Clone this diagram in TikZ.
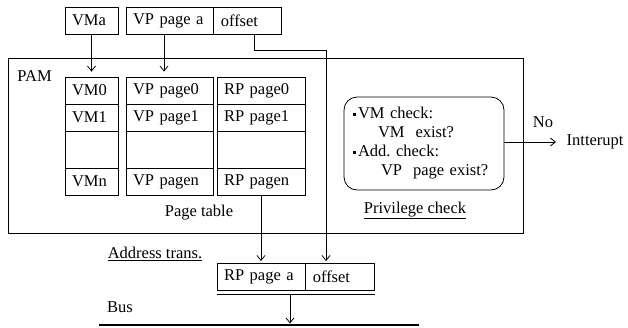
\documentclass[tikz,border=0pt]{standalone}
\usepackage{fontspec}
\setmainfont{Liberation Serif}
\usetikzlibrary{arrows.meta}
\tikzstyle{cell}=[draw, inner xsep=7pt, inner ysep=0pt,
    minimum height=27pt, align=left]
\tikzstyle{vmc}=[cell, text width=39pt]
\tikzstyle{vpc}=[cell, text width=73pt]
\tikzstyle{rpc}=[cell, text width=74pt]
\tikzstyle{ofc}=[cell, text width=54pt]
\tikzstyle{ann}=[inner sep=0pt]
\def\gaprow{37pt}
\newcommand{\sqb}{\raisebox{3pt}{\rule{3pt}{3pt}}\hspace{2pt}}
\begin{document}
\begin{tikzpicture}[x=1pt, y=-1pt, line width=0.8pt,
    font=\fontsize{16.5}{19}\selectfont,
    >={Straight Barb[length=5pt,width=8pt]}]
    \useasboundingbox (0,0) rectangle (628,327);
    % outer PAM block
    \node (pam) at (265.5,145.5) [draw, minimum width=515pt,
        minimum height=175pt] {};
    \path (pam.north west)+(27,18) node (pamlbl) [ann] {PAM};
    % address in
    \path (91.5,20.5) node (vma) [vmc] {VMa};
    \path (169.5,20.5) node (vpa) [vpc] {VP page a};
    \path (vpa.east) node (offa) [ofc, anchor=west] {offset};
    % page table
    \path (91.5,90.5) node (vm0) [vmc] {VM0};
    \path (91.5,117.5) node (vm1) [vmc] {VM1};
    \path (91.5,149.5) node (vmd) [vmc, minimum height=\gaprow] {};
    \path (91.5,181.5) node (vmn) [vmc] {VMn};
    \path (169.5,90.5) node (vp0) [vpc] {VP page0};
    \path (169.5,117.5) node (vp1) [vpc] {VP page1};
    \path (169.5,149.5) node (vpd) [vpc, minimum height=\gaprow] {};
    \path (169.5,181.5) node (vpn) [vpc] {VP pagen};
    \path (261,90.5) node (rp0) [rpc] {RP page0};
    \path (261,117.5) node (rp1) [rpc] {RP page1};
    \path (261,149.5) node (rpd) [rpc, minimum height=\gaprow] {};
    \path (261,181.5) node (rpn) [rpc] {RP pagen};
    \path (vpn.south)+(29.5,17) node (ptlbl) [ann] {Page table};
    % privilege check
    \node (chk) at (424,143.5) [draw, rounded corners=13pt,
        minimum width=160pt, minimum height=93pt, text width=142pt,
        inner xsep=9pt, align=left]
        {\sqb VM check:\\ \hspace*{25pt}VM\ \ exist?\\
         \sqb Add.\ check:\\ \hspace*{28pt}VP\ \ page exist?};
    \path (chk.south)+(-9,20) node (pclbl) [ann] {\underline{Privilege check}};
    \path (563,142) node (intr) [anchor=west] {Intterupt};
    \path (543,122) node (no) [ann] {No};
    % address out
    \path (261,277) node (rpa) [rpc] {RP page a};
    \path (rpa.east) node (offb) [ofc, text width=55pt, anchor=west] {offset};
    \path (155,254) node (atlbl) [ann] {\underline{Address trans.}};
    \path (120,307) node (buslbl) [ann] {Bus};
    \coordinate (bend) at (326,50);
    \coordinate (tap) at (290,294);
    \coordinate (busl) at (99,325);
    \coordinate (busr) at (419,325);
    % connectors
    \draw [->, shorten >=5pt] (vma.south) -- (vm0.north);
    \draw [->, shorten >=5pt] ([xshift=-5.5pt]vpa.south)
        -- ([xshift=-5.5pt]vp0.north);
    \draw [->, shorten >=2pt] ([xshift=7pt]offa.south) |- (bend)
        -- (bend |- offb.north);
    \draw [->, shorten >=2pt] (rpn.south) -- (rpa.north);
    \draw [->, shorten >=7pt] (chk.east |- intr.west) -- (intr.west);
    \draw ([yshift=-3.5pt]rpa.south west) -- ([yshift=-3.5pt]offb.south east);
    \draw [->, shorten >=1.5pt] (tap) -- (tap |- busl);
    \draw [line width=2.6pt] (busl) -- (busr);
\end{tikzpicture}
\end{document}
